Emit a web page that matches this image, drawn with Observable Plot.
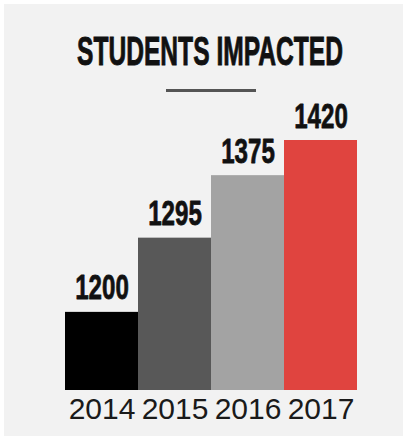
<!DOCTYPE html>
<html>
<head>
<meta charset="utf-8">
<script src="https://cdn.jsdelivr.net/npm/d3@7"></script>
<script src="https://cdn.jsdelivr.net/npm/@observablehq/plot@0.6"></script>
<style>
  html, body { margin: 0; padding: 0; background: #ffffff; }
  #wrap { position: relative; width: 403px; height: 436px; overflow: hidden; background: #ffffff; }
  #panel { position: absolute; left: 4px; top: 4px; right: 0; bottom: 0; background: #f2f2f2; }
  #title { position: absolute; left: -90px; top: 31px; width: 600px; text-align: center;
           font-family: "Liberation Sans", Arial, sans-serif; font-weight: bold; font-size: 41px;
           line-height: 41px; color: #111; transform: scaleX(0.60); transform-origin: 300px 0;
           -webkit-text-stroke: 0.9px #111; white-space: nowrap; }
  #rule { position: absolute; left: 166px; top: 89px; width: 90px; height: 2.5px; background: #555; }
  #chart { position: absolute; left: 0; top: 0; }
</style>
</head>
<body>
<div id="wrap">
  <div id="panel"></div>
  <div id="title">STUDENTS IMPACTED</div>
  <div id="rule"></div>
  <div id="chart"></div>
</div>
<script>
const years = ["2014", "2015", "2016", "2017"];
const students = [1200, 1295, 1375, 1420];
const barColors = ["#000000", "#585858", "#a3a3a3", "#e0443f"];
const yStart = 1100;

const data = years.map((year, i) => ({year, value: students[i], color: barColors[i]}));

const chart = Plot.plot({
  width: 403,
  height: 436,
  marginLeft: 64,
  marginRight: 46,
  marginTop: 140,
  marginBottom: 46,
  style: {background: "transparent", fontFamily: "Liberation Sans, Arial, sans-serif", fontSize: "30px", color: "#1a1a1a", overflow: "visible"},
  x: {domain: years, padding: 0, tickSize: 0, tickPadding: 7, label: null},
  y: {domain: [yStart, d3.max(students)], axis: null},
  color: {type: "identity"},
  marks: [
    Plot.barY(data, {x: "year", y1: yStart, y2: "value", fill: "color", inset: 0}),
    Plot.text(data, {x: "year", y: "value", text: d => String(d.value), lineAnchor: "bottom", dy: -13,
      fontSize: 36, fontWeight: "bold", fontFamily: "Liberation Sans, Arial, sans-serif",
      fill: "#111", stroke: "#111", strokeWidth: 0.8})
  ]
});
document.getElementById("chart").appendChild(chart);

// condense the value labels horizontally
chart.querySelectorAll('g[aria-label="text"] text').forEach(t => {
  const tr = t.getAttribute("transform");
  if (tr) t.setAttribute("transform", tr + " scale(0.67,1)");
  else {
    const x = t.getAttribute("x") || 0, y = t.getAttribute("y") || 0;
    t.removeAttribute("x");
    t.setAttribute("transform", `translate(${x},${y}) scale(0.67,1)`);
  }
});
</script>
</body>
</html>
